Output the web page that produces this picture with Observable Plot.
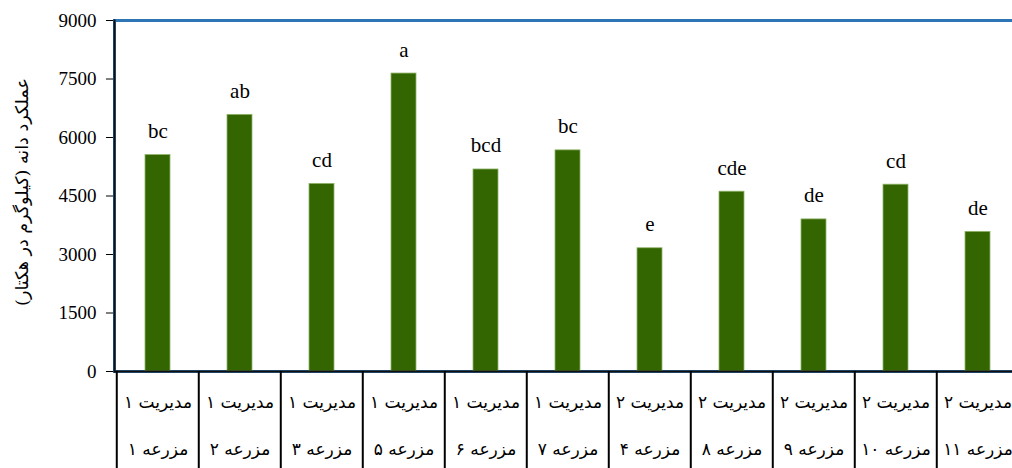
<!DOCTYPE html>
<html>
<head>
<meta charset="utf-8">
<script src="https://cdn.jsdelivr.net/npm/d3@7"></script>
<script src="https://cdn.jsdelivr.net/npm/@observablehq/plot@0.6"></script>
<style>
  html, body { margin: 0; padding: 0; background: #fff; }
  #chart { width: 1012px; height: 468px; overflow: hidden; }
  #chart svg { font-family: "Liberation Serif", "Times New Roman", serif; }
</style>
</head>
<body>
<div id="chart"></div>
<script>
const farms = ["مزرعه ۱","مزرعه ۲","مزرعه ۳","مزرعه ۵","مزرعه ۶","مزرعه ۷","مزرعه ۴","مزرعه ۸","مزرعه ۹","مزرعه ۱۰","مزرعه ۱۱"];
const management = ["مدیریت ۱","مدیریت ۱","مدیریت ۱","مدیریت ۱","مدیریت ۱","مدیریت ۱","مدیریت ۲","مدیریت ۲","مدیریت ۲","مدیریت ۲","مدیریت ۲"];
const yields = [5550, 6580, 4810, 7640, 5180, 5670, 3160, 4610, 3900, 4790, 3580];
const letters = ["bc","ab","cd","a","bcd","bc","e","cde","de","cd","de"];
const yTicks = [0, 1500, 3000, 4500, 6000, 7500, 9000];
const yTitle = "عملکرد دانه (کیلوگرم در هکتار)";

const data = farms.map((f, i) => ({farm: f, mgmt: management[i], y: yields[i], letter: letters[i]}));

const W = 1012, H = 468;
const mL = 114, mR = -9, mT = 20, mB = 97;
const xOpts = {type: "band", domain: farms, range: [mL, W - mR], paddingInner: 0.7, paddingOuter: 0.35};
const step = Plot.scale({x: xOpts}).step;

const serif = "\"Liberation Serif\", \"Times New Roman\", serif";
const arabic = "\"DejaVu Serif\", \"DejaVu Sans\", serif";

const chart = Plot.plot({
  width: W,
  height: H,
  marginLeft: mL,
  marginRight: mR,
  marginTop: mT,
  marginBottom: mB,
  style: {fontFamily: serif, fontSize: "19px", background: "#fff", color: "#000", overflow: "visible"},
  x: {...xOpts, axis: null},
  y: {domain: [0, 9000], ticks: yTicks, tickSize: 8, tickPadding: 10, tickFormat: d => String(d), label: null},
  marks: [
    Plot.frame({stroke: "#2e75b6", strokeWidth: 3}),
    Plot.barY(data, {x: "farm", y: "y", fill: "#336600", stroke: "#8fb36a", strokeWidth: 0.8}),
    Plot.text(data, {x: "farm", y: "y", text: "letter", lineAnchor: "bottom", dy: -17, fontSize: 21, fontFamily: serif, fill: "#000"}),
    Plot.ruleY([0], {stroke: "#111", strokeWidth: 2}),
    Plot.frame({anchor: "left", stroke: "#111", strokeWidth: 2}),
    Plot.ruleX(data, {x: "farm", dx: -step / 2, y1: 0, y2: 0, insetBottom: -110, stroke: "#000", strokeWidth: 2}),
    Plot.text(data, {x: "farm", y: 0, text: "mgmt", dy: 31, fontSize: 17, fontFamily: arabic, fill: "#000"}),
    Plot.text(data, {x: "farm", y: 0, text: "farm", dy: 78, fontSize: 17, fontFamily: arabic, fill: "#000"}),
    Plot.text([yTitle], {frameAnchor: "left", textAnchor: "middle", text: d => d, rotate: -90, dx: -92, dy: -4, fontSize: 17.5, fontFamily: arabic, fill: "#000"})
  ]
});
document.getElementById("chart").appendChild(chart);
</script>
</body>
</html>
